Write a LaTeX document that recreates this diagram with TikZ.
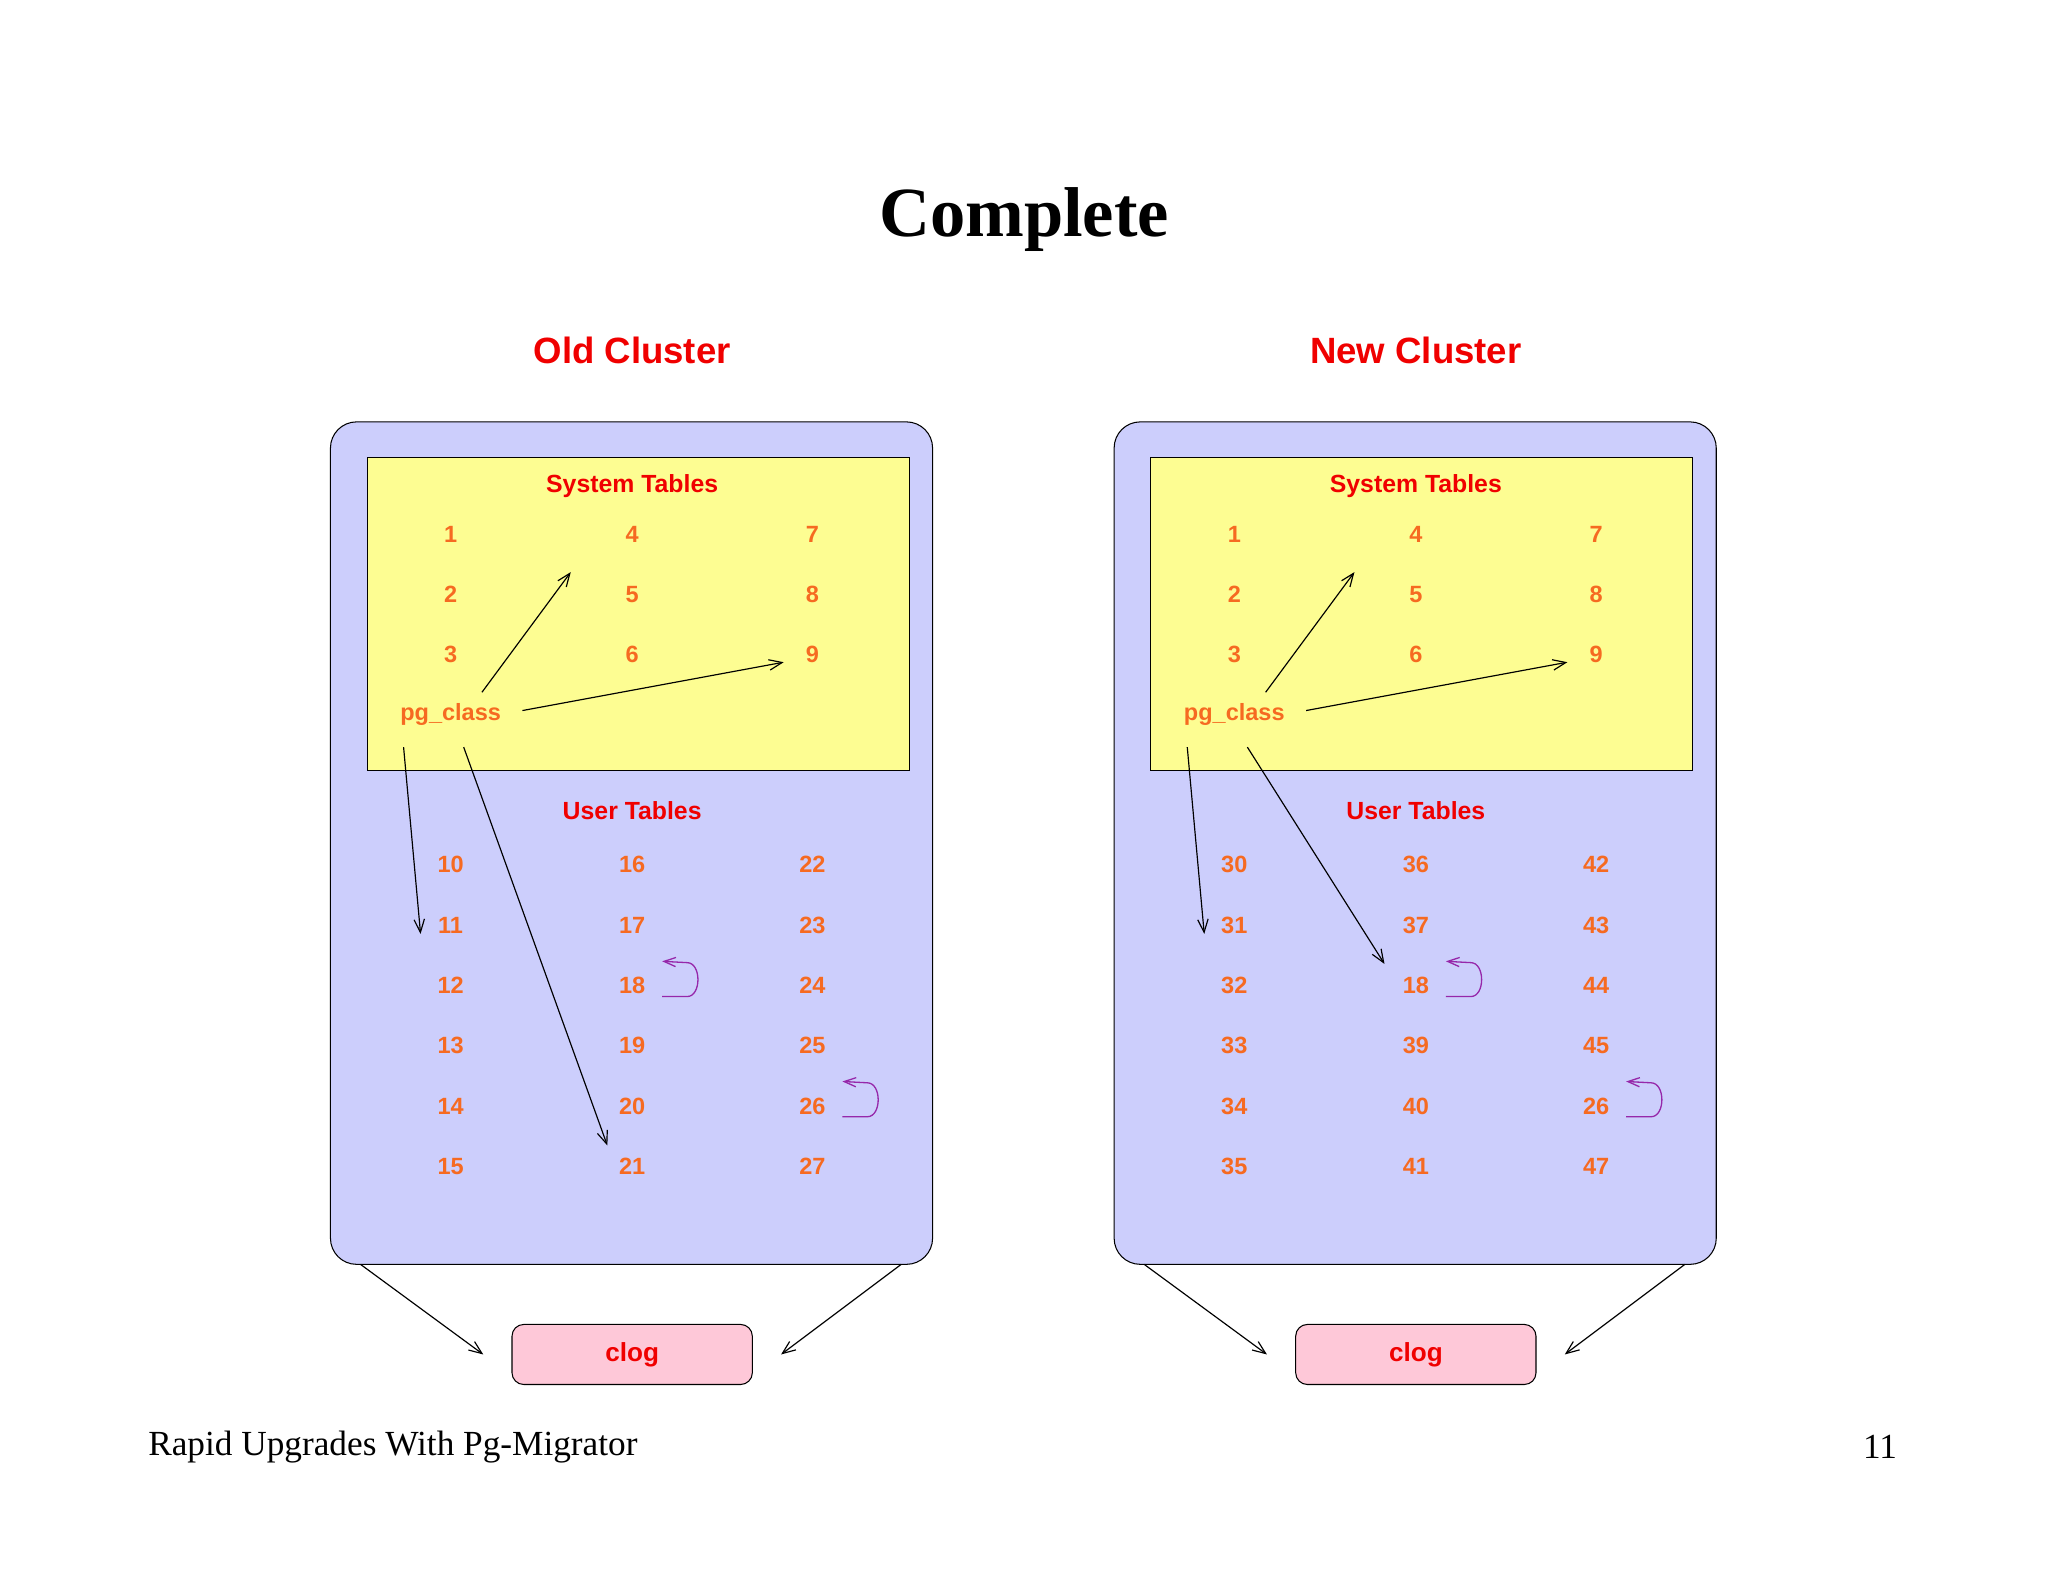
\documentclass[tikz,border=0pt]{standalone}
\usepackage{fontspec}
\setmainfont{Liberation Serif}
\setsansfont{Liberation Sans}
\usetikzlibrary{arrows.meta}
\definecolor{clblue}{RGB}{204,206,252}
\definecolor{clyellow}{RGB}{253,253,146}
\definecolor{clpink}{RGB}{254,200,216}
\definecolor{numor}{RGB}{246,106,33}
\definecolor{hdred}{RGB}{240,0,0}
\definecolor{loopc}{RGB}{150,40,170}
\tikzset{
 num/.style={font=\sffamily\bfseries\fontsize{18}{18}\selectfont,text=numor,inner sep=1pt},
 hdr/.style={font=\sffamily\bfseries\fontsize{19}{19}\selectfont,text=hdred},
 cl/.style={font=\sffamily\bfseries\fontsize{28}{28}\selectfont,text=hdred},
 arr/.style={-{Straight Barb[length=10pt,width=8pt]},line width=0.9pt},
 larr/.style={-{Straight Barb[length=9pt,width=7pt]},line width=1pt,draw=loopc},
}
\newcommand\mycluster[6]{%
 \begin{scope}[xshift=#1]
 \node[cl] (#2head) at (484,268) {#3};
 \draw[fill=clblue,rounded corners=20pt,line width=0.8pt] (253,323) rectangle (714,968);
 \coordinate (#2bl) at (276,968); \coordinate (#2br) at (690,968);
 \draw[fill=clyellow,line width=0.8pt] (281,350) rectangle (696,590);
 \node[hdr] (#2sys) at (484,372) {System Tables};
 \node[hdr] (#2usr) at (484,621) {User Tables};
 \foreach \n [count=\i] in {1,2,3}{\node[num] (#2s1\i) at (345,{409+46*(\i-1)}) {\n};}
 \foreach \n [count=\i] in {4,5,6}{\node[num] (#2s2\i) at (484,{409+46*(\i-1)}) {\n};}
 \foreach \n [count=\i] in {7,8,9}{\node[num] (#2s3\i) at (622,{409+46*(\i-1)}) {\n};}
 \node[num] (#2pg) at (345,547) {pg\_class};
 \foreach \n [count=\i] in {#4}{\node[num] (#2u1\i) at (345,{662+46.2*(\i-1)}) {\n};}
 \foreach \n [count=\i] in {#5}{\node[num] (#2u2\i) at (484,{662+46.2*(\i-1)}) {\n};}
 \foreach \n [count=\i] in {#6}{\node[num] (#2u3\i) at (622,{662+46.2*(\i-1)}) {\n};}
 \coordinate (#2a1s) at (369,530); \coordinate (#2a1e) at (437,438);
 \coordinate (#2a2s) at (400,544); \coordinate (#2a2e) at (600,507);
 \coordinate (#2a3s) at (309,572); \coordinate (#2a3e) at (322,715);
 \draw[arr] (#2a1s) -- (#2a1e);
 \draw[arr] (#2a2s) -- (#2a2e);
 \draw[arr] (#2a3s) -- (#2a3e);
 \node[draw,fill=clpink,rounded corners=9pt,minimum width=184pt,minimum height=46pt,line width=0.8pt,
   font=\sffamily\bfseries\fontsize{20}{20}\selectfont,text=hdred] (#2clog) at (484,1037) {clog};
 \coordinate (#2c1) at (370,1037); \coordinate (#2c2) at (598,1037);
 \draw[arr] (#2bl) -- (#2c1);
 \draw[arr] (#2br) -- (#2c2);
 \draw[larr] (507,763) -- (526,763) to[out=0,in=0,looseness=1.1] (526,737) -- (507,736);
 \draw[larr] (645,855) -- (664,855) to[out=0,in=0,looseness=1.1] (664,829) -- (645,828);
 \end{scope}}
\begin{document}
\begin{tikzpicture}[x=1pt,y=-1pt]
\useasboundingbox[fill=white] (0,0) rectangle (1568,1211);
\node[font=\bfseries\fontsize{54}{54}\selectfont] (title) at (784,168) {Complete};
\node[font=\fontsize{27}{27}\selectfont,anchor=west] (foot) at (110,1108) {Rapid Upgrades With Pg-Migrator};
\node[font=\fontsize{27}{27}\selectfont,anchor=east] (pg) at (1456,1108) {11};
\mycluster{0}{L}{Old Cluster}{10,11,12,13,14,15}{16,17,18,19,20,21}{22,23,24,25,26,27}
\mycluster{600}{R}{New Cluster}{30,31,32,33,34,35}{36,37,18,39,40,41}{42,43,44,45,26,47}
\coordinate (Lbs) at (355,572); \coordinate (Lbe) at (465,877);
\draw[arr] (Lbs) -- (Lbe);
\coordinate (Rbs) at (955,572); \coordinate (Rbe) at (1060,738);
\draw[arr] (Rbs) -- (Rbe);
\end{tikzpicture}
\end{document}
